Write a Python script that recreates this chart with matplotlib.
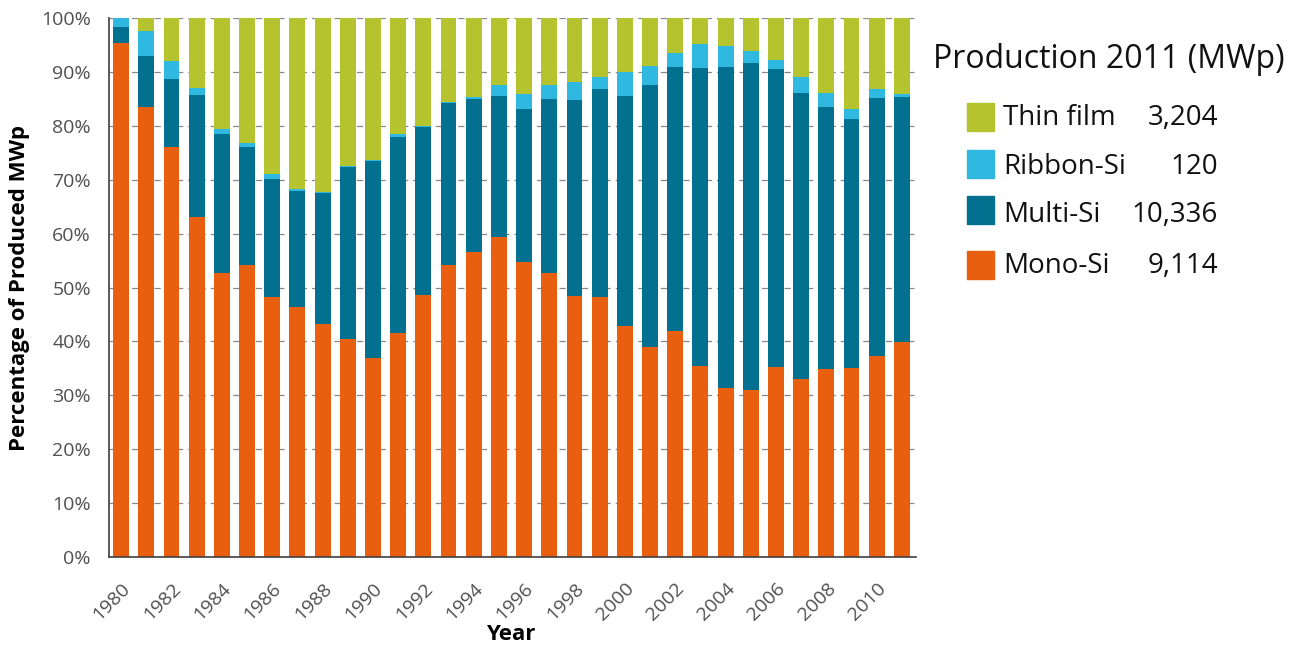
import numpy as np
import matplotlib
matplotlib.use('Agg')
import matplotlib.pyplot as plt
from matplotlib.patches import Rectangle

plt.rcParams['font.family'] = ['Open Sans', 'DejaVu Sans']

years = list(range(1980, 2012))
# cumulative tops (percent)
mono = [95.4, 83.4, 76.1, 63.1, 52.6, 54.2, 48.3, 46.4, 43.2, 40.4, 36.9, 41.5,
        48.7, 54.1, 56.5, 59.4, 54.8, 52.7, 48.4, 48.3, 42.9, 39.0, 42.0, 35.5,
        31.3, 30.9, 35.3, 33.0, 34.8, 35.0, 37.3, 39.9]
multi_top = [98.4, 93.0, 88.7, 85.8, 78.4, 76.1, 70.1, 67.9, 67.6, 72.4, 73.4, 78.0,
             79.8, 84.2, 84.9, 85.5, 83.1, 85.0, 84.8, 86.9, 85.5, 87.5, 90.9, 90.7,
             90.9, 91.6, 90.5, 86.1, 83.4, 81.3, 85.1, 85.4]
ribbon_top = [100.0, 97.5, 92.1, 87.0, 79.4, 76.9, 71.0, 68.3, 67.7, 72.5, 73.7, 78.4,
              80.0, 84.5, 85.4, 87.6, 85.9, 87.6, 88.2, 89.0, 90.0, 91.1, 93.6, 95.2,
              94.8, 93.8, 92.3, 89.1, 86.1, 83.1, 86.8, 85.9]

mono = np.array(mono)
multi = np.array(multi_top) - mono
ribbon = np.array(ribbon_top) - np.array(multi_top)
thin = 100 - np.array(ribbon_top)

names = ['Thin film', 'Ribbon-Si', 'Multi-Si', 'Mono-Si']
prod_2011 = ['3,204', '120', '10,336', '9,114']
colors = {'Mono-Si': '#e8600f', 'Multi-Si': '#03708f', 'Ribbon-Si': '#2fb8e0', 'Thin film': '#b5c42e'}

fig = plt.figure(figsize=(13.01, 6.46), dpi=100)
ax = fig.add_axes([0.0838, 0.1378, 0.6203, 0.8343])

x = np.arange(len(years))
w = 0.63
ax.bar(x, mono, w, color=colors['Mono-Si'], zorder=2)
ax.bar(x, multi, w, bottom=mono, color=colors['Multi-Si'], zorder=2)
ax.bar(x, ribbon, w, bottom=mono + multi, color=colors['Ribbon-Si'], zorder=2)
ax.bar(x, thin, w, bottom=mono + multi + ribbon, color=colors['Thin film'], zorder=2)

ax.set_xlim(-0.48, 31.56)
ax.set_ylim(0, 100)
ax.set_yticks(range(0, 101, 10))
ax.set_yticklabels([f'{v}%' for v in range(0, 101, 10)])
ax.set_xticks(x[::2])
ax.set_xticklabels([str(y) for y in years[::2]], rotation=45, ha='right', rotation_mode='anchor')
ax.tick_params(length=0, labelsize=14, labelcolor='#505050')
ax.tick_params(axis='y', pad=13)
ax.tick_params(axis='x', pad=16)
ax.yaxis.grid(True, linestyle=(0, (5, 4)), color='#888888', linewidth=0.9, zorder=0)
ax.set_axisbelow(True)
for s in ['top', 'right']:
    ax.spines[s].set_visible(False)
for s in ['left', 'bottom']:
    ax.spines[s].set_color('#404040')
    ax.spines[s].set_linewidth(1.2)

ax.set_xlabel('Year', fontsize=16, fontweight='bold')
ax.set_ylabel('Percentage of Produced MWp', fontsize=16, fontweight='bold')
ax.xaxis.set_label_coords(0.498, -0.124)
ax.yaxis.set_label_coords(-0.098, 0.5)

# legend as free text on the figure
W, H = 1301, 646
fig.text(933 / W, 1 - 60 / H, 'Production 2011 (MWp)', fontsize=23, va='center', ha='left', color='#111111')
text_rows = [118, 167, 215, 266]
box_rows = [117, 164, 210, 265]
for name, val, ty, by in zip(names, prod_2011, text_rows, box_rows):
    fig.patches.append(Rectangle((967 / W, 1 - (by + 14) / H), 27 / W, 28 / H,
                                 transform=fig.transFigure, color=colors[name]))
    fig.text(1003 / W, 1 - ty / H, name, fontsize=20, va='center', ha='left', color='#111111')
    fig.text(1218 / W, 1 - ty / H, val, fontsize=20, va='center', ha='right', color='#111111')

fig.savefig('out.png', dpi=100)
